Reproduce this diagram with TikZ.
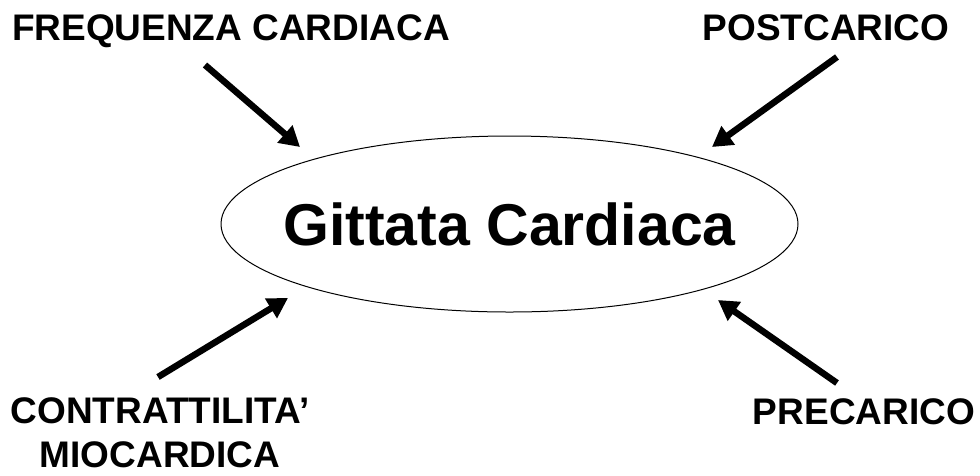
\documentclass[tikz,border=0pt]{standalone}
\usepackage{fontspec}
\setmainfont{Liberation Sans}
\usetikzlibrary{arrows.meta,shapes.geometric}

\tikzset{
  label/.style={font=\fontsize{37}{44}\selectfont\bfseries, inner sep=0pt, align=center},
  heart/.style={ellipse, draw, line width=1pt, minimum width=577pt, minimum height=176pt, inner sep=0pt},
  arr/.style={line width=6.5pt, -{Triangle[length=20pt,width=22pt]}}
}

\begin{document}
\begin{tikzpicture}[x=1pt, y=-1pt]
  \useasboundingbox (0,0) rectangle (980,475);

  % central ellipse and its title
  \node[heart] (gc) at (509.5,224) {};
  \node[font=\fontsize{59}{70}\selectfont\bfseries, inner sep=0pt, anchor=base]
    (title) at (509.5,245) {Gittata Cardiaca};

  % the four factors
  \node[label, anchor=base] (freq) at (231,40) {FREQUENZA CARDIACA};
  \node[label, anchor=base] (post) at (826,40) {POSTCARICO};
  \node[label, anchor=center] (contr) at (160,433) {CONTRATTILITA'\\MIOCARDICA};
  \node[label, anchor=base] (pre) at (864,424) {PRECARICO};

  % arrow ends
  \coordinate (s1) at (205,65);  \coordinate (t1) at (300,147);
  \coordinate (s2) at (837,57);  \coordinate (t2) at (712,147);
  \coordinate (s3) at (158,377); \coordinate (t3) at (288,298);
  \coordinate (s4) at (837,383); \coordinate (t4) at (718,300);

  \draw[arr] (s1) -- (t1);
  \draw[arr] (s2) -- (t2);
  \draw[arr] (s3) -- (t3);
  \draw[arr] (s4) -- (t4);
\end{tikzpicture}
\end{document}
